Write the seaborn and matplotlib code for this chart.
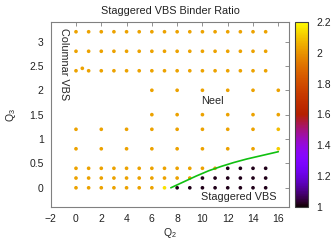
import numpy as np
import pandas as pd
import matplotlib
matplotlib.use('Agg')
import matplotlib.pyplot as plt
import seaborn as sns

# grid of simulated (Q2, Q3) couplings and the binder ratio at each point
q2_int = [0, 1, 2, 3, 4, 5, 6, 7, 8, 9, 10, 11, 12, 13, 14, 15]
q2_even = [0, 2, 4, 6, 8, 10, 12, 14, 16]
q2_mid = [6, 8, 10, 12, 14, 16]

r_q3_00 = [2.03, 2.03, 2.03, 2.03, 2.03, 2.03, 2.03, 2.15, 1.02, 1.02, 1.02, 1.02, 1.02, 1.02, 1.02, 1.02]
r_q3_02 = [2.03, 2.03, 2.03, 2.03, 2.03, 2.03, 2.03, 2.03, 2.03, 2.03, 1.02, 1.02, 1.02, 1.02, 1.02, 1.02]
r_q3_04 = [2.03, 2.03, 2.03, 2.03, 2.03, 2.03, 2.03, 2.03, 2.03, 2.03, 2.03, 2.03, 1.02, 1.02, 1.02, 1.02]
r_q3_08 = [2.03, 2.03, 2.03, 2.03, 2.03, 2.03, 2.03, 2.03, 2.12]
r_q3_12 = [2.03, 2.03, 2.03, 2.03, 2.03, 2.03, 2.03, 2.03, 2.08]
r_q3_15 = [2.03, 2.03, 2.03, 2.03, 2.03, 2.03]
r_q3_20 = [2.03, 2.03, 2.03, 2.03, 2.03, 2.03]
r_q3_24 = [2.03] * 16
r_q3_28 = [2.03] * 16
r_q3_32 = [2.03] * 16
extra_q2 = [0.5]
extra_q3 = [2.45]
extra_r = [2.03]

# phase boundary
bnd_q2 = [7.5, 8.5, 9.5, 10.5, 11.5, 12.5, 13.5, 14.5, 16.0]
bnd_q3 = [0.0, 0.12, 0.24, 0.35, 0.44, 0.52, 0.59, 0.65, 0.74]

rows = [
    (0.0, q2_int, r_q3_00), (0.2, q2_int, r_q3_02), (0.4, q2_int, r_q3_04),
    (0.8, q2_even, r_q3_08), (1.2, q2_even, r_q3_12),
    (1.5, q2_mid, r_q3_15), (2.0, q2_mid, r_q3_20),
    (2.4, q2_int, r_q3_24), (2.8, q2_int, r_q3_28), (3.2, q2_int, r_q3_32),
]
frames = [pd.DataFrame({'Q2': xs, 'Q3': q3, 'R': rs}) for q3, xs, rs in rows]
frames.append(pd.DataFrame({'Q2': extra_q2, 'Q3': extra_q3, 'R': extra_r}))
df = pd.concat(frames, ignore_index=True)

sns.set_style('white')
plt.rcParams['font.family'] = ['Liberation Sans', 'DejaVu Sans']
plt.rcParams['mathtext.default'] = 'regular'

fig = plt.figure(figsize=(3.33, 2.4), dpi=100)
ax = fig.add_axes([50.7 / 333, 1 - 207.3 / 240, 238.6 / 333, 185.3 / 240])

norm = plt.Normalize(1, 2.2)
sns.scatterplot(data=df, x='Q2', y='Q3', hue='R', palette='gnuplot', hue_norm=norm,
                s=7, linewidth=0, legend=False, ax=ax)
sns.lineplot(x=bnd_q2, y=bnd_q3, color='#10c010', lw=1.2, ax=ax)

ax.set_xlim(-2, 16.87)
ax.set_ylim(-0.4, 3.4)
ax.set_xticks(np.arange(-2, 17, 2))
ax.set_yticks([0, 0.5, 1, 1.5, 2, 2.5, 3])
ax.set_yticklabels(['0', '0.5', '1', '1.5', '2', '2.5', '3'])
ax.tick_params(direction='in', length=3, width=0.6, color='#808080', labelsize=7.5,
               labelcolor='#222222', top=True, right=True, pad=5)
for sp in ax.spines.values():
    sp.set_color('#808080')
    sp.set_linewidth(0.8)
ax.set_xlabel('Q$_2$', fontsize=7.5, labelpad=1)
ax.set_ylabel('Q$_3$', fontsize=7.5, labelpad=8)
ax.set_title('Staggered VBS Binder Ratio', fontsize=7.8, pad=6, color='#222222')

ax.text(-0.93, 3.27, 'Columnar VBS', rotation=270, ha='center', va='top', fontsize=7.8)
ax.text(10.77, 1.78, 'Neel', ha='center', va='center', fontsize=7.8)
ax.text(12.87, -0.19, 'Staggered VBS', ha='center', va='center', fontsize=7.8)

cax = fig.add_axes([295.3 / 333, 1 - 207.3 / 240, 13 / 333, 185.6 / 240])
sm = plt.cm.ScalarMappable(norm=norm, cmap='gnuplot')
cb = fig.colorbar(sm, cax=cax)
cb.set_ticks([1, 1.2, 1.4, 1.6, 1.8, 2, 2.2])
cb.set_ticklabels(['1', '1.2', '1.4', '1.6', '1.8', '2', '2.2'])
cax.tick_params(direction='in', length=3, width=0.6, color='#404040', labelsize=7.5,
                labelcolor='#222222', left=True, right=True, pad=6)
cb.outline.set_linewidth(0.8)
cb.outline.set_edgecolor('#404040')

fig.savefig('out.png', dpi=100)
